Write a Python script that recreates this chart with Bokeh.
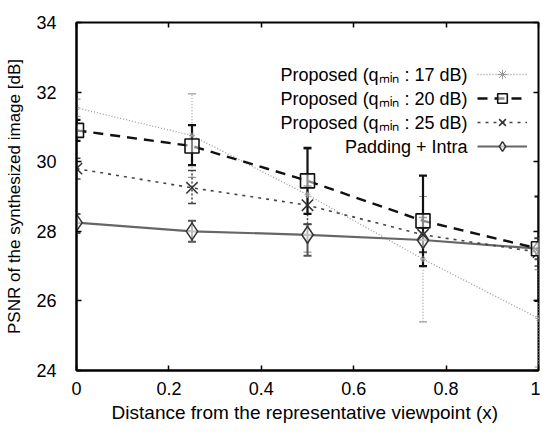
from bokeh.plotting import figure
from bokeh.models import (ColumnDataSource, Range1d, LinearAxis, Whisker, TeeHead,
                          Legend, LegendItem, Label, FixedTicker)
from bokeh.embed import file_html
from bokeh.resources import INLINE

# ---- data ----
dist = [0.0, 0.25, 0.5, 0.75, 1.0]

q17 = [31.55, 30.75, 29.05, 27.2, 25.5]
q17_lo = [31.3, 29.55, 27.4, 25.4, 24.1]
q17_hi = [31.8, 31.95, 30.35, 29.0, 26.9]

q20 = [30.9, 30.45, 29.45, 28.3, 27.5]
q20_lo = [30.6, 29.9, 28.5, 27.0, 26.0]
q20_hi = [31.2, 31.05, 30.4, 29.6, 29.0]

q25 = [29.8, 29.25, 28.75, 27.9, 27.4]
q25_lo = [29.5, 28.8, 28.2, 27.4, 27.0]
q25_hi = [30.1, 29.75, 29.3, 28.4, 27.8]

pad = [28.25, 28.0, 27.9, 27.75, 27.5]
pad_lo = [27.95, 27.7, 27.3, 27.4, 27.2]
pad_hi = [28.5, 28.3, 28.2, 28.1, 27.8]

labels = ["Proposed (q\u2098\u1d62\u2099 : 17 dB)", "Proposed (q\u2098\u1d62\u2099 : 20 dB)",
          "Proposed (q\u2098\u1d62\u2099 : 25 dB)", "Padding + Intra"]
x_title = "Distance from the representative viewpoint  (x)"
y_title = "PSNR of the synthesized image [dB]"
x_ticks = [0, 0.2, 0.4, 0.6, 0.8, 1]
y_ticks = [24, 26, 28, 30, 32, 34]

FONT = "Liberation Sans"

p = figure(width=540, height=425, output_backend="svg", toolbar_location=None,
           x_range=Range1d(0, 1), y_range=Range1d(24, 34),
           min_border_left=76, min_border_right=2, min_border_top=22, min_border_bottom=55)
p.grid.visible = False
p.outline_line_color = "black"
p.outline_line_width = 2

p.xaxis.ticker = FixedTicker(ticks=x_ticks)
p.yaxis.ticker = FixedTicker(ticks=y_ticks)
p.xaxis.major_label_overrides = {0: "0", 1: "1"}
for ax in (p.xaxis[0], p.yaxis[0]):
    ax.major_tick_in = 5
    ax.major_tick_out = 0
    ax.minor_tick_line_color = None
    ax.axis_line_width = 2
    ax.major_tick_line_width = 1.5
    ax.major_label_text_font = FONT
    ax.major_label_text_font_size = "18px"
    ax.major_label_text_color = "black"
    ax.axis_label_text_font = FONT
    ax.axis_label_text_font_style = "normal"
    ax.axis_label_text_color = "black"
p.xaxis.axis_label = x_title
p.yaxis.axis_label = y_title
p.xaxis.axis_label_text_font_size = "19px"
p.yaxis.axis_label_text_font_size = "17px"
p.yaxis.major_label_standoff = 20
p.xaxis.major_label_standoff = 11
p.xaxis.axis_label_standoff = 4
p.yaxis.axis_label_standoff = 9

# mirrored ticks on top and right
for loc, tk in (("above", x_ticks), ("right", y_ticks)):
    a = LinearAxis(ticker=FixedTicker(ticks=tk), major_tick_in=5, major_tick_out=0,
                   minor_tick_line_color=None, axis_line_color=None,
                   major_label_text_font_size="0px", major_label_standoff=0,
                   major_tick_line_width=1.5)
    p.add_layout(a, loc)

src17 = ColumnDataSource(dict(x=dist, y=q17, lo=q17_lo, hi=q17_hi))
src20 = ColumnDataSource(dict(x=dist, y=q20, lo=q20_lo, hi=q20_hi))
src25 = ColumnDataSource(dict(x=dist, y=q25, lo=q25_lo, hi=q25_hi))
srcp = ColumnDataSource(dict(x=dist, y=pad, lo=pad_lo, hi=pad_hi))

def bars(src, color, width, dash):
    w = Whisker(source=src, base="x", upper="hi", lower="lo", dimension="height",
                line_color=color, line_width=width, line_dash=dash,
                upper_head=TeeHead(size=8, line_color=color, line_width=width),
                lower_head=TeeHead(size=8, line_color=color, line_width=width))
    p.add_layout(w)

bars(src17, "#9a9a9a", 1.2, "1 2")
bars(srcp, "#555555", 2, "solid")
bars(src25, "#444444", 1.5, "2 2")
bars(src20, "#111111", 2.2, "solid")

l17 = p.line("x", "y", source=src17, line_color="#9a9a9a", line_width=1.3, line_dash="1 2")
m17 = p.scatter("x", "y", source=src17, marker="asterisk", size=6, line_color="#9a9a9a")
lp = p.line("x", "y", source=srcp, line_color="#666666", line_width=2.2)
mp = p.scatter("x", "y", source=srcp, marker="diamond", size=17, line_color="#333333",
               line_width=1.5, fill_color="white", fill_alpha=0.6)
l25 = p.line("x", "y", source=src25, line_color="#444444", line_width=1.6, line_dash="3 5")
m25 = p.scatter("x", "y", source=src25, marker="x", size=16, line_color="#333333", line_width=1.5)
l20 = p.line("x", "y", source=src20, line_color="#111111", line_width=2.4, line_dash="10 7")
m20 = p.scatter("x", "y", source=src20, marker="square", size=14, line_color="#111111",
                line_width=1.6, fill_color="white", fill_alpha=0.5)

legend = Legend(items=[LegendItem(label=" ", renderers=[l17, m17]),
                       LegendItem(label=" ", renderers=[l20, m20]),
                       LegendItem(label=" ", renderers=[l25, m25]),
                       LegendItem(label=" ", renderers=[lp, mp])],
                location=(401, 212), glyph_width=50, glyph_height=24, spacing=0,
                padding=0, margin=0, label_standoff=0, label_width=0, label_height=0,
                label_text_font_size="1px", border_line_color=None,
                background_fill_alpha=0)
p.add_layout(legend, "center")

row_y = [296, 272, 248, 224]
for txt, yy in zip(labels, row_y):
    p.add_layout(Label(x=391, y=yy, x_units="screen", y_units="screen", text=txt,
                       text_align="right", text_baseline="middle", text_font=FONT,
                       text_font_size="18px", text_color="black"))

open("out.html", "w").write(file_html(p, INLINE))
